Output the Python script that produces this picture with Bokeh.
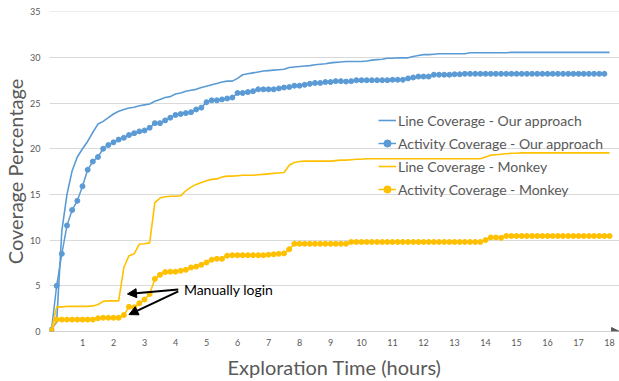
from bokeh.plotting import figure
from bokeh.models import Range1d, FixedTicker, Arrow, NormalHead, Label, Legend
from bokeh.embed import file_html
from bokeh.resources import INLINE

# sampling times: every 10 minutes over 18 hours
minutes = list(range(0, 1081, 10))
hours = [m / 60 for m in minutes]

line_ours = [
    0.3, 1.0, 11.0, 15.0, 17.6, 19.1, 20.0, 20.8, 21.8, 22.7,
    23.0, 23.4, 23.8, 24.1, 24.3, 24.45, 24.55, 24.7, 24.8, 24.9,
    25.2, 25.4, 25.6, 25.7, 26.0, 26.1, 26.3, 26.4, 26.5, 26.7,
    26.85, 27.0, 27.15, 27.3, 27.4, 27.4, 27.7, 28.1, 28.2, 28.3,
    28.4, 28.5, 28.55, 28.6, 28.65, 28.7, 28.9, 28.95, 29.0, 29.05,
    29.1, 29.2, 29.25, 29.3, 29.4, 29.45, 29.5, 29.55, 29.55, 29.55,
    29.55, 29.6, 29.7, 29.75, 29.8, 29.9, 29.9, 29.95, 29.95, 29.95,
    30.1, 30.2, 30.3, 30.3, 30.35, 30.4, 30.4, 30.4, 30.4, 30.4,
    30.4, 30.5, 30.5, 30.5, 30.5, 30.5, 30.5, 30.5, 30.5, 30.55,
    30.55, 30.55, 30.55, 30.55, 30.55, 30.55, 30.55, 30.55, 30.55, 30.55,
    30.55, 30.55, 30.55, 30.55, 30.55, 30.55, 30.55, 30.55, 30.55,
]

act_ours = [
    0.2, 5.0, 8.5, 11.6, 13.3, 14.3, 15.9, 17.7, 18.6, 19.1,
    20.0, 20.4, 20.7, 21.0, 21.2, 21.5, 21.7, 21.9, 22.0, 22.3,
    22.8, 22.8, 23.1, 23.4, 23.7, 23.8, 23.9, 24.0, 24.3, 24.5,
    25.1, 25.3, 25.3, 25.4, 25.5, 25.6, 26.1, 26.1, 26.2, 26.3,
    26.5, 26.5, 26.5, 26.5, 26.6, 26.7, 26.75, 26.9, 26.9, 27.0,
    27.1, 27.2, 27.2, 27.3, 27.3, 27.4, 27.4, 27.35, 27.4, 27.5,
    27.5, 27.5, 27.5, 27.5, 27.5, 27.5, 27.55, 27.55, 27.55, 27.7,
    27.8, 27.9, 27.9, 27.9, 28.1, 28.1, 28.1, 28.1, 28.15, 28.15,
    28.2, 28.2, 28.2, 28.2, 28.2, 28.2, 28.2, 28.2, 28.2, 28.2,
    28.2, 28.2, 28.2, 28.2, 28.2, 28.2, 28.2, 28.2, 28.2, 28.2,
    28.2, 28.2, 28.2, 28.2, 28.2, 28.2, 28.2, 28.2,
]

line_monkey = [
    0.2, 2.7, 2.7, 2.75, 2.75, 2.75, 2.75, 2.75, 2.8, 2.95,
    3.3, 3.35, 3.35, 3.35, 7.0, 8.3, 8.5, 9.55, 9.6, 9.7,
    14.1, 14.6, 14.75, 14.8, 14.8, 14.85, 15.4, 15.8, 16.1, 16.3,
    16.5, 16.65, 16.7, 16.9, 17.0, 17.0, 17.05, 17.1, 17.1, 17.1,
    17.15, 17.2, 17.25, 17.3, 17.35, 17.4, 18.2, 18.5, 18.6, 18.65,
    18.65, 18.65, 18.65, 18.65, 18.65, 18.7, 18.75, 18.75, 18.8, 18.85,
    18.85, 18.9, 18.9, 18.9, 18.9, 18.9, 18.9, 18.9, 18.9, 18.9,
    18.9, 18.9, 18.9, 18.9, 18.9, 18.9, 18.9, 18.9, 18.9, 18.9,
    18.9, 18.9, 18.9, 18.9, 19.1, 19.3, 19.35, 19.4, 19.45, 19.5,
    19.5, 19.55, 19.55, 19.55, 19.55, 19.55, 19.55, 19.55, 19.55, 19.55,
    19.55, 19.55, 19.55, 19.55, 19.55, 19.55, 19.55, 19.55, 19.55,
]

act_monkey = [
    0.1, 1.3, 1.3, 1.3, 1.3, 1.3, 1.3, 1.3, 1.3, 1.45,
    1.5, 1.5, 1.5, 1.5, 1.8, 2.7, 2.65, 3.1, 3.5, 4.1,
    5.75, 6.2, 6.5, 6.55, 6.55, 6.65, 6.75, 7.0, 7.1, 7.3,
    7.55, 7.85, 7.95, 7.95, 8.3, 8.35, 8.35, 8.35, 8.35, 8.35,
    8.35, 8.35, 8.4, 8.45, 8.5, 8.55, 9.0, 9.6, 9.6, 9.6,
    9.6, 9.6, 9.6, 9.6, 9.6, 9.6, 9.6, 9.6, 9.8, 9.8,
    9.8, 9.8, 9.8, 9.8, 9.8, 9.8, 9.8, 9.8, 9.8, 9.8,
    9.8, 9.8, 9.8, 9.8, 9.8, 9.8, 9.8, 9.8, 9.8, 9.8,
    9.8, 9.8, 9.8, 9.8, 10.0, 10.3, 10.3, 10.25, 10.45, 10.45,
    10.45, 10.45, 10.45, 10.45, 10.45, 10.45, 10.45, 10.45, 10.45, 10.45,
    10.45, 10.45, 10.45, 10.45, 10.45, 10.45, 10.45, 10.45, 10.45,
]

x_ticks = list(range(1, 19))
y_ticks = [0, 5, 10, 15, 20, 25, 30, 35]

labels = ["Line Coverage - Our approach", "Activity Coverage - Our approach",
          "Line Coverage - Monkey", "Activity Coverage - Monkey"]
x_title = "Exploration Time (hours)"
y_title = "Coverage Percentage"
note = "Manually login"

BLUE = "#5B9BD5"
YELLOW = "#FFC000"
GRAY = "#595959"
FONT = "Lato"

X0, X1 = -0.064, 18.32
Y0, Y1 = 0, 35.02

p = figure(width=619, height=381, output_backend="svg", toolbar_location=None,
           x_range=Range1d(X0, X1), y_range=Range1d(Y0, Y1),
           min_border_left=48, min_border_right=0, min_border_top=11, min_border_bottom=49)
p.outline_line_color = None
p.background_fill_color = "white"

r1 = p.line(hours, line_ours, color=BLUE, line_width=1.6)
r2a = p.line(hours[:len(act_ours)], act_ours, color=BLUE, line_width=1.5)
r2b = p.scatter(hours[:len(act_ours)], act_ours, size=5, color=BLUE)
r3 = p.line(hours, line_monkey, color=YELLOW, line_width=1.6)
r4a = p.line(hours, act_monkey, color=YELLOW, line_width=1.5)
r4b = p.scatter(hours, act_monkey, size=5, color=YELLOW)

legend = Legend(items=[(labels[0], [r1]), (labels[1], [r2a, r2b]),
                       (labels[2], [r3]), (labels[3], [r4a, r4b])],
                location=(329, 132))
legend.border_line_color = None
legend.background_fill_alpha = 0
legend.padding = 0
legend.margin = 0
legend.spacing = 3
legend.glyph_width = 18
legend.glyph_height = 20
legend.label_height = 20
legend.label_standoff = 2
legend.label_text_font = FONT
legend.label_text_font_size = "14px"
legend.label_text_color = GRAY
p.add_layout(legend)

p.xaxis.ticker = FixedTicker(ticks=x_ticks)
p.yaxis.ticker = FixedTicker(ticks=y_ticks)
p.xgrid.grid_line_color = None
p.ygrid.grid_line_color = "#D9D9D9"
p.ygrid.grid_line_width = 1

for ax in (p.xaxis, p.yaxis):
    ax.axis_line_color = None
    ax.major_tick_line_color = None
    ax.minor_tick_line_color = None
    ax.major_tick_out = 0
    ax.major_tick_in = 0
    ax.major_label_text_font = FONT
    ax.major_label_text_font_size = "9px"
    ax.major_label_text_color = GRAY
    ax.axis_label_text_font = FONT
    ax.axis_label_text_font_size = "20px"
    ax.axis_label_text_font_style = "normal"
    ax.axis_label_text_color = GRAY
p.xaxis.axis_label = x_title
p.yaxis.axis_label = y_title
p.xaxis.major_label_standoff = 7
p.yaxis.major_label_standoff = 9
p.xaxis.axis_label_standoff = 6
p.yaxis.axis_label_standoff = 0

# x axis line with arrow head
p.add_layout(Arrow(end=NormalHead(size=8, fill_color=GRAY, line_color=GRAY),
                   x_start=X0, y_start=0, x_end=X1, y_end=0,
                   line_color="#A6A6A6", line_width=1))

# annotation
p.add_layout(Label(x=4.27, y=4.55, text=note, text_font=FONT,
                   text_font_size="14px", text_color="black", text_baseline="alphabetic"))
p.add_layout(Arrow(end=NormalHead(size=9, fill_color="black", line_color="black"),
                   x_start=4.09, y_start=4.6, x_end=2.45, y_end=4.11,
                   line_color="black", line_width=2))
p.add_layout(Arrow(end=NormalHead(size=9, fill_color="black", line_color="black"),
                   x_start=4.09, y_start=4.4, x_end=2.50, y_end=1.85,
                   line_color="black", line_width=2))

open("out.html", "w").write(file_html(p, INLINE))
